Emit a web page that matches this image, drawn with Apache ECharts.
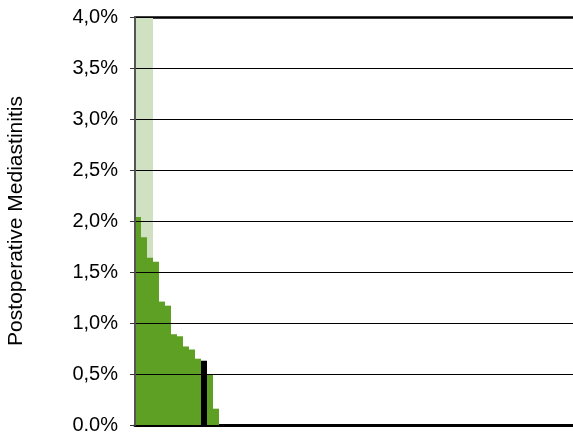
<!DOCTYPE html>
<html><head><meta charset="utf-8">
<script src="https://cdn.jsdelivr.net/npm/echarts@6/dist/echarts.min.js"></script>
<style>html,body{margin:0;padding:0;background:#fff}#c{width:573px;height:432px}</style>
</head><body><div id="c"></div>
<script>
// Data
const nCategories = 73;
const categories = Array.from({length: nCategories}, (_, i) => String(i + 1));
const mainValues = [2.04, 1.84, 1.64, 1.60, 1.21, 1.17, 0.89, 0.87, 0.77, 0.74, 0.65, 0.63, 0.50, 0.16];
const highlightIndex = 11; // black bar
const backgroundValues = [5, 5, 5]; // light bars exceeding axis max
const yTickLabels = ['0.0%', '0,5%', '1,0%', '1,5%', '2,0%', '2,5%', '3,0%', '3,5%', '4,0%'];
const yTitle = 'Postoperative Mediastinitis';

const dark = '#5ea024', light = '#cfe1c1';
const mainData = categories.map((c, i) => {
  const v = i < mainValues.length ? mainValues[i] : 0;
  if (i === highlightIndex) return {value: v, itemStyle: {color: '#000'}};
  return v;
});
const bgData = categories.map((c, i) => i < backgroundValues.length ? backgroundValues[i] : 0);

const chart = echarts.init(document.getElementById('c'), null, {renderer: 'canvas'});
chart.setOption({
  animation: false,
  grid: {left: 135, right: 0, top: 17, bottom: 7, containLabel: false, outerBoundsMode: 'none'},
  xAxis: [{
    type: 'category', data: categories, position: 'bottom',
    axisLine: {show: true, lineStyle: {color: '#000', width: 3}},
    axisTick: {show: false}, axisLabel: {show: false}, splitLine: {show: false}
  }, {
    type: 'category', data: categories, position: 'top',
    axisLine: {show: true, lineStyle: {color: '#000', width: 2.5}},
    axisTick: {show: false}, axisLabel: {show: false}, splitLine: {show: false}
  }],
  yAxis: {
    type: 'value', min: 0, max: 4, interval: 0.5, z: 5,
    name: yTitle, nameLocation: 'middle', nameRotate: 90, nameGap: 108,
    nameTextStyle: {fontFamily: 'Liberation Sans', fontSize: 21, color: '#000'},
    axisLine: {show: true, lineStyle: {color: '#555', width: 2}},
    axisTick: {show: true, length: 5, lineStyle: {color: '#333', width: 1}},
    axisLabel: {
      margin: 17, fontFamily: 'Liberation Sans', fontSize: 20, color: '#000',
      formatter: (v) => yTickLabels[Math.round(v / 0.5)]
    },
    splitLine: {show: true, lineStyle: {color: '#000', width: 1}}
  },
  series: [{
    type: 'bar', data: bgData, barWidth: '100%', barGap: '-100%',
    itemStyle: {color: light}, silent: true, z: 1
  }, {
    type: 'bar', data: mainData, barWidth: '100%', barGap: '-100%',
    itemStyle: {color: dark}, z: 2
  }]
});
</script></body></html>
